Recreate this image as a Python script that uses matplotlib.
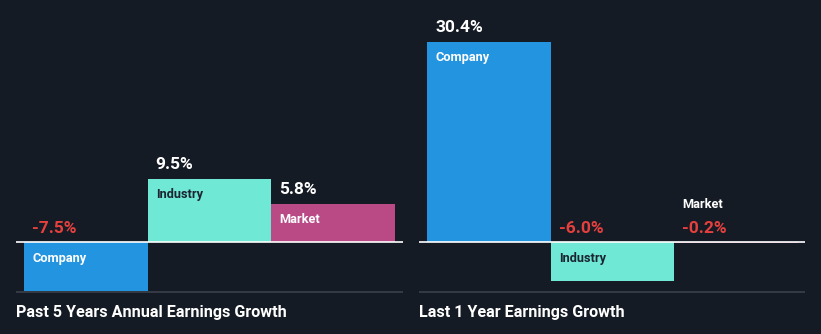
import matplotlib.pyplot as plt

BG = "#151b24"
COLORS = ["#2394e0", "#6fe8d6", "#b94a86"]
LABEL_COLORS = ["white", "#1b2430", "white"]
RED = "#e4403e"

categories = ["Company", "Industry", "Market"]
past_5y = [-7.5, 9.5, 5.8]
last_1y = [30.4, -6.0, -0.2]
titles = ["Past 5 Years Annual Earnings Growth", "Last 1 Year Earnings Growth"]

plt.rcParams["font.family"] = ["Roboto", "DejaVu Sans"]

W, H = 821, 334
fig = plt.figure(figsize=(W / 100, H / 100), dpi=100, facecolor=BG)

ZERO_PX = 242
PX_PER_UNIT = 6.58
PT = 0.72  # points per pixel at dpi 100


def panel(left_px, right_px, values, title):
    ax = fig.add_axes([left_px / W, 0, (right_px - left_px) / W, 1])
    ax.set_facecolor(BG)
    ax.axis("off")
    width_units = (right_px - left_px) / 123.7
    margin = 8 / 123.7
    ax.set_xlim(-0.5 - margin, -0.5 - margin + width_units)
    ax.set_ylim(-(H - ZERO_PX) / PX_PER_UNIT, ZERO_PX / PX_PER_UNIT)

    xs = range(len(values))
    ax.bar(xs, values, width=1.0, color=COLORS, align="center")
    ax.axhline(0, color="white", lw=1.2)
    # separator line under the bars
    ax.plot([0, 1], [(H - 292) / H] * 2, transform=ax.transAxes,
            color="#3b414b", lw=1.2)

    for x, v, name, lc in zip(xs, values, categories, LABEL_COLORS):
        xl = x - 0.5
        vtxt = f"{v:.1f}%"
        if v >= 0:
            ax.annotate(vtxt, (xl, v), xytext=(8 * PT, 7 * PT), textcoords="offset points",
                        ha="left", va="bottom", color="white", fontsize=12.5, fontweight="bold")
            ax.annotate(name, (xl, v), xytext=(8 * PT, -9 * PT), textcoords="offset points",
                        ha="left", va="top", color=lc, fontsize=9.2, fontweight="bold")
        else:
            ax.annotate(vtxt, (xl, 0), xytext=(8 * PT, 6 * PT), textcoords="offset points",
                        ha="left", va="bottom", color=RED, fontsize=12.5, fontweight="bold")
            if abs(v) * PX_PER_UNIT > 25:
                ax.annotate(name, (xl, 0), xytext=(8 * PT, -10 * PT), textcoords="offset points",
                            ha="left", va="top", color=lc, fontsize=9.2, fontweight="bold")
            else:
                ax.annotate(name, (xl, 0), xytext=(8 * PT, 31 * PT), textcoords="offset points",
                            ha="left", va="bottom", color="white", fontsize=9.2, fontweight="bold")

    fig.text(left_px / W, (H - 312) / H, title, ha="left", va="center",
             color="white", fontsize=11.6, fontweight="bold")


panel(16, 403, past_5y, titles[0])
panel(419, 805, last_1y, titles[1])

fig.savefig("out.png", dpi=100, facecolor=BG)
